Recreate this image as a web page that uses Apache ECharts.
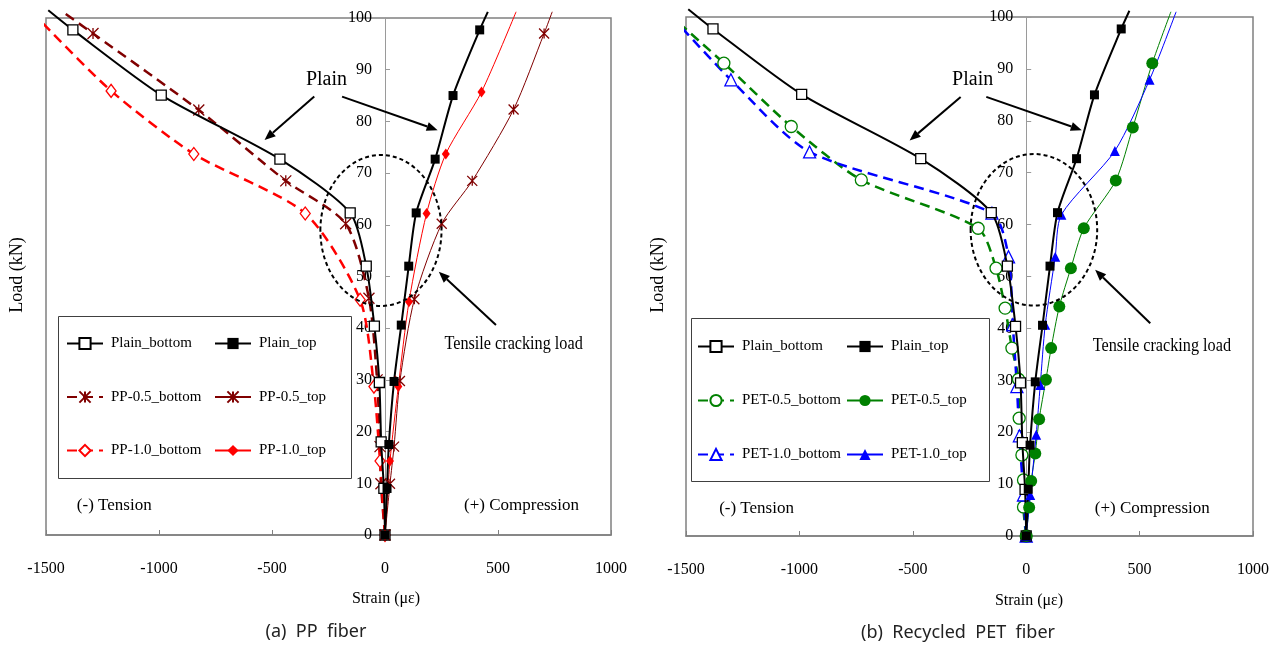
<!DOCTYPE html>
<html>
<head>
<meta charset="utf-8">
<script src="https://cdn.jsdelivr.net/npm/echarts@6/dist/echarts.min.js"></script>
<style>
  html, body { margin: 0; padding: 0; background: #fff; }
  #chart { width: 1281px; height: 646px; }
</style>
</head>
<body>
<div id="chart"></div>
<script>
// Load–strain readings of the beam gauges: strain in με (negative = tension), load in kN.
// Plain beam (shared by both panels)
const plainBottomStrain = [0, -5, -17, -25, -47, -83, -154, -465, -990, -1381, -1490];
const plainBottomLoad   = [0, 9.0, 18.0, 29.5, 40.4, 52.0, 62.3, 72.7, 85.1, 97.7, 101.5];
const plainTopStrain    = [0, 9, 17, 40, 72, 105, 138, 222, 301, 419, 455];
const plainTopLoad      = [0, 9.0, 17.5, 29.7, 40.6, 52.0, 62.3, 72.7, 85.0, 97.7, 101.2];

// PP fiber beams
const pp05BottomStrain = [0, -18, -22, -35, -71, -174, -439, -824, -1292, -1430];
const pp05BottomLoad   = [0, 9.9, 17.1, 30.0, 45.8, 60.2, 68.5, 82.2, 97.0, 101.3];
const pp05TopStrain    = [0, 22, 40, 66, 130, 251, 386, 569, 704, 740];
const pp05TopLoad      = [0, 9.9, 17.1, 29.8, 45.6, 60.2, 68.5, 82.3, 97.0, 101.2];
const pp10BottomStrain = [0, -22, -49, -110, -353, -846, -1212, -1525];
const pp10BottomLoad   = [0, 14.3, 28.7, 45.5, 62.2, 73.7, 85.9, 99.5];
const pp10TopStrain    = [0, 22, 59, 106, 184, 269, 427, 580];
const pp10TopLoad      = [0, 14.3, 28.7, 45.1, 62.2, 73.7, 85.7, 101.2];

// Recycled PET fiber beams
const pet05BottomStrain = [0, -12, -12, -19, -31, -34, -63, -93, -133, -212, -727, -1036, -1333, -1522];
const pet05BottomLoad   = [0, 5.6, 10.8, 15.6, 22.7, 30.2, 36.2, 43.9, 51.6, 59.3, 68.6, 78.9, 91.1, 98.5];
const pet05TopStrain    = [0, 13, 22, 40, 57, 87, 110, 146, 197, 254, 395, 470, 556, 638];
const pet05TopLoad      = [0, 5.5, 10.6, 15.9, 22.5, 30.1, 36.2, 44.2, 51.6, 59.3, 68.5, 78.7, 91.1, 101.0];
const pet10BottomStrain = [0, -12, -30, -41, -59, -78, -151, -955, -1302, -1522];
const pet10BottomLoad   = [0, 7.9, 19.3, 28.8, 40.7, 53.8, 62.2, 74.0, 87.9, 98.1];
const pet10TopStrain    = [0, 18, 44, 62, 84, 128, 155, 391, 544, 661];
const pet10TopLoad      = [0, 7.9, 19.5, 29.1, 40.7, 53.8, 61.9, 74.2, 87.9, 101.0];

// Axis ticks
const strainTicks = [-1500, -1000, -500, 0, 500, 1000];
const loadTicks = [0, 10, 20, 30, 40, 50, 60, 70, 80, 90, 100];

const SERIF = '"Liberation Serif", "Times New Roman", serif';
const STAR = 'path://M0,0L10,10M10,0L0,10M5,0L5,10';
const STRAIN_MIN = strainTicks[0];
const STRAIN_MAX = strainTicks[strainTicks.length - 1];
const LOAD_MAX = loadTicks[loadTicks.length - 1];

// Gauge appearance
const looks = {
  'Plain_bottom':   { color: '#000000', width: 2,   dash: null,    symbol: 'rect',     size: 10,       hollow: true },
  'Plain_top':      { color: '#000000', width: 2,   dash: null,    symbol: 'rect',     size: 9,        hollow: false },
  'PP-0.5_bottom':  { color: '#800000', width: 2.5, dash: [10, 6], symbol: STAR,       size: 11,       hollow: false, stroke: true },
  'PP-0.5_top':     { color: '#800000', width: 1,   dash: null,    symbol: STAR,       size: 10,       hollow: false, stroke: true },
  'PP-1.0_bottom':  { color: '#FF0000', width: 2.5, dash: [10, 6], symbol: 'diamond',  size: [10, 13], hollow: true },
  'PP-1.0_top':     { color: '#FF0000', width: 1,   dash: null,    symbol: 'diamond',  size: [8, 11],  hollow: false },
  'PET-0.5_bottom': { color: '#008000', width: 2.5, dash: [10, 6], symbol: 'circle',   size: 12,       hollow: true },
  'PET-0.5_top':    { color: '#008000', width: 1,   dash: null,    symbol: 'circle',   size: 12,       hollow: false },
  'PET-1.0_bottom': { color: '#0000FF', width: 2.5, dash: [10, 6], symbol: 'triangle', size: 12,       hollow: true },
  'PET-1.0_top':    { color: '#0000FF', width: 1,   dash: null,    symbol: 'triangle', size: 10,       hollow: false }
};

function points(strain, load) {
  // readings outside the axis ranges are drawn as line only
  return strain.map((s, i) => (load[i] > LOAD_MAX || s < STRAIN_MIN || s > STRAIN_MAX)
    ? { value: [s, load[i]], symbol: 'none' } : [s, load[i]]);
}

function gauge(name, strain, load, panel) {
  const k = looks[name];
  const itemStyle = k.hollow
    ? { color: '#ffffff', borderColor: k.color, borderWidth: 1.3 }
    : (k.stroke ? { color: k.color, borderColor: k.color, borderWidth: 1.3 } : { color: k.color, borderWidth: 0 });
  return {
    type: 'line',
    name: name,
    xAxisIndex: panel,
    yAxisIndex: panel,
    data: points(strain, load),
    clip: false,
    smooth: 0.25,
    symbol: k.symbol,
    symbolSize: k.size,
    showAllSymbol: true,
    lineStyle: { color: k.color, width: k.width, type: k.dash || 'solid' },
    itemStyle: itemStyle,
    emphasis: { disabled: true },
    z: k.dash ? 2 : 3
  };
}

// Annotations in data coordinates (strain, load)
const notes = [
  { plain: [-259, 88.0], leftArrow: [[-313, 84.8], [-533, 76.4]], rightArrow: [[-190, 84.8], [233, 78.3]],
    crackArrow: [[491, 40.6], [238, 50.9]], crackText: [569, 36.8],
    tension: [-1198, 5.7], compression: [604, 5.7], ring: { c: [-18, 58.9], rx: 268, ry: 14.6 } },
  { plain: [-236, 88.0], leftArrow: [[-289, 84.6], [-514, 76.2]], rightArrow: [[-176, 84.6], [245, 78.2]],
    crackArrow: [[547, 41.0], [304, 51.3]], crackText: [598, 36.5],
    tension: [-1189, 5.2], compression: [556, 5.2], ring: { c: [34, 59.0], rx: 279, ry: 14.6 } }
];

const grids = [
  { left: 46, top: 18, width: 565, height: 517 },
  { left: 686, top: 17, width: 567, height: 519 }
].map(g => Object.assign({ show: true, borderColor: '#808080', borderWidth: 1.5, backgroundColor: 'transparent' }, g));

function xAxisFor(i) {
  return {
    type: 'value', gridIndex: i,
    min: STRAIN_MIN, max: STRAIN_MAX, interval: 500,
    axisLine: { show: true, onZero: false, lineStyle: { color: '#808080', width: 1.5 } },
    axisTick: { show: true, inside: true, length: 5, lineStyle: { color: '#808080' } },
    axisLabel: { margin: 26, fontFamily: SERIF, fontSize: 16, color: '#000', formatter: v => String(v) },
    splitLine: { show: false }
  };
}
function yAxisFor(i) {
  // the load axis stands at zero strain, inside the plot
  const g = grids[i];
  const zeroOffset = -g.width * (0 - STRAIN_MIN) / (STRAIN_MAX - STRAIN_MIN);
  return {
    type: 'value', gridIndex: i,
    min: loadTicks[0], max: LOAD_MAX, interval: 10,
    offset: zeroOffset,
    axisLine: { show: true, onZero: false, lineStyle: { color: '#9a9a9a', width: 1 } },
    axisTick: { show: true, inside: true, length: 5, lineStyle: { color: '#9a9a9a' } },
    axisLabel: { margin: 13, fontFamily: SERIF, fontSize: 16, color: '#000', formatter: v => String(v) },
    splitLine: { show: false },
    z: 1
  };
}

function legendColumn(names, left, top, gap) {
  return {
    data: names, orient: 'vertical', left: left, top: top,
    itemWidth: 36, itemHeight: 14, itemGap: gap, padding: 0,
    selectedMode: false,
    textStyle: { fontFamily: SERIF, fontSize: 15, color: '#000', padding: [0, 0, 0, 3] }
  };
}

const series = [
  gauge('Plain_bottom', plainBottomStrain, plainBottomLoad, 0),
  gauge('PP-0.5_bottom', pp05BottomStrain, pp05BottomLoad, 0),
  gauge('PP-1.0_bottom', pp10BottomStrain, pp10BottomLoad, 0),
  gauge('PP-0.5_top', pp05TopStrain, pp05TopLoad, 0),
  gauge('PP-1.0_top', pp10TopStrain, pp10TopLoad, 0),
  gauge('Plain_top', plainTopStrain, plainTopLoad, 0),
  gauge('Plain_bottom', plainBottomStrain, plainBottomLoad, 1),
  gauge('PET-0.5_bottom', pet05BottomStrain, pet05BottomLoad, 1),
  gauge('PET-1.0_bottom', pet10BottomStrain, pet10BottomLoad, 1),
  gauge('PET-0.5_top', pet05TopStrain, pet05TopLoad, 1),
  gauge('PET-1.0_top', pet10TopStrain, pet10TopLoad, 1),
  gauge('Plain_top', plainTopStrain, plainTopLoad, 1)
];

const chart = echarts.init(document.getElementById('chart'), null, { renderer: 'canvas' });
chart.setOption({
  animation: false,
  backgroundColor: '#ffffff',
  grid: grids,
  xAxis: [xAxisFor(0), xAxisFor(1)],
  yAxis: [yAxisFor(0), yAxisFor(1)],
  legend: [
    legendColumn(['Plain_bottom', 'PP-0.5_bottom', 'PP-1.0_bottom'], 66, 336, 38.5),
    legendColumn(['Plain_top', 'PP-0.5_top', 'PP-1.0_top'], 214, 336, 38.5),
    legendColumn(['Plain_bottom', 'PET-0.5_bottom', 'PET-1.0_bottom'], 697, 339, 39),
    legendColumn(['Plain_top', 'PET-0.5_top', 'PET-1.0_top'], 846, 339, 39)
  ],
  series: series
});

// Overlay: legend frames, axis titles, captions, annotation texts, arrows and rings
function px(panel, p) { return chart.convertToPixel({ gridIndex: panel }, p); }
function label(text, p, size, extra) {
  return Object.assign({
    type: 'text', x: p[0], y: p[1], z: 20,
    style: { text: text, fontFamily: SERIF, fontSize: size, fill: '#000', align: 'center', verticalAlign: 'middle' }
  }, extra || {});
}
function arrow(panel, seg) {
  const a = px(panel, seg[0]);
  const b = px(panel, seg[1]);
  const dx = b[0] - a[0], dy = b[1] - a[1];
  const len = Math.hypot(dx, dy);
  const ux = dx / len, uy = dy / len;
  const head = 11, half = 4.5;
  const base = [b[0] - ux * head, b[1] - uy * head];
  return [
    { type: 'line', z: 18, shape: { x1: a[0], y1: a[1], x2: base[0], y2: base[1] },
      style: { stroke: '#000', lineWidth: 2 } },
    { type: 'polygon', z: 18,
      shape: { points: [b, [base[0] - uy * half, base[1] + ux * half], [base[0] + uy * half, base[1] - ux * half]] },
      style: { fill: '#000' } }
  ];
}

const overlay = [
  { type: 'rect', shape: { x: 58.5, y: 316.5, width: 293, height: 162 }, style: { fill: 'none', stroke: '#404040', lineWidth: 1 }, z: 1 },
  { type: 'rect', shape: { x: 691.5, y: 318.5, width: 298, height: 163 }, style: { fill: 'none', stroke: '#404040', lineWidth: 1 }, z: 1 },
  label('Load (kN)', [17, 275], 18, { rotation: Math.PI / 2 }),
  label('Load (kN)', [658, 275], 18, { rotation: Math.PI / 2 }),
  label('Strain (με)', [386, 599], 16),
  label('Strain (με)', [1029, 601], 16),
  { type: 'text', x: 316, y: 632, z: 20, style: { text: '(a)  PP  fiber', fontFamily: '"Noto Sans", sans-serif', fontSize: 18, fill: '#222', align: 'center', verticalAlign: 'middle' } },
  { type: 'text', x: 958, y: 633, z: 20, style: { text: '(b)  Recycled  PET  fiber', fontFamily: '"Noto Sans", sans-serif', fontSize: 18, fill: '#222', align: 'center', verticalAlign: 'middle' } }
];

notes.forEach((n, i) => {
  overlay.push(label('Plain', px(i, n.plain), 20));
  overlay.push(label('Tensile cracking load', px(i, n.crackText), 18, { scaleX: 0.9 }));
  overlay.push(label('(-) Tension', px(i, n.tension), 17));
  overlay.push(label('(+) Compression', px(i, n.compression), 17));
  overlay.push(...arrow(i, n.leftArrow), ...arrow(i, n.rightArrow), ...arrow(i, n.crackArrow));
  const c = px(i, n.ring.c);
  const e = px(i, [n.ring.c[0] + n.ring.rx, n.ring.c[1] + n.ring.ry]);
  overlay.push({
    type: 'ellipse', z: 15,
    shape: { cx: c[0], cy: c[1], rx: Math.abs(e[0] - c[0]), ry: Math.abs(c[1] - e[1]) },
    style: { fill: 'none', stroke: '#000', lineWidth: 2, lineDash: [4, 3] }
  });
});

chart.setOption({ graphic: overlay });
</script>
</body>
</html>
